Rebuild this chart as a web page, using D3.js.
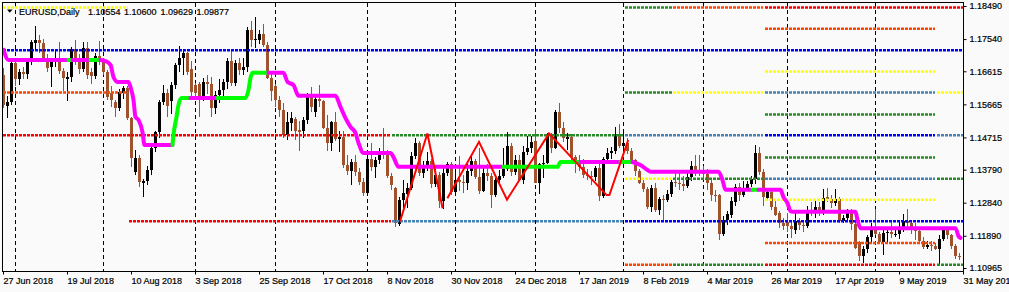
<!DOCTYPE html>
<html lang="en">
<head>
  <meta charset="UTF-8">
  <title>EURUSD,Daily</title>
  <script src="https://d3js.org/d3.v7.min.js"></script>
  <style>
    html, body { margin: 0; padding: 0; background: #fafafa; }
    svg { display: block; font-family: "Liberation Sans", Arial, sans-serif; }
    svg text { stroke: #000; stroke-width: 0.2px; }
  </style>
</head>
<body>
  <script>
    // daily bars [open, high, low, close], first bar 27 Jun 2018
    const bars = [
      [1.1651,1.1672,1.1555,1.1565],[1.1562,1.1590,1.1528,1.1573],[1.1573,1.1700,1.1565,1.1685],
      // Jul
      [1.1685,1.1690,1.1620,1.1640],[1.1640,1.1668,1.1622,1.1660],[1.1660,1.1675,1.1640,1.1654],
      [1.1654,1.1698,1.1640,1.1690],[1.1690,1.1750,1.1680,1.1745],[1.1742,1.1792,1.1720,1.1750],
      [1.1750,1.1765,1.1715,1.1742],[1.1742,1.1755,1.1690,1.1700],[1.1700,1.1710,1.1660,1.1672],
      [1.1674,1.1690,1.1616,1.1688],[1.1688,1.1722,1.1675,1.1700],[1.1700,1.1745,1.1655,1.1662],
      [1.1662,1.1672,1.1605,1.1642],[1.1640,1.1660,1.1577,1.1645],[1.1645,1.1730,1.1630,1.1726],
      [1.1726,1.1752,1.1680,1.1690],[1.1700,1.1712,1.1655,1.1668],[1.1668,1.1745,1.1660,1.1728],
      [1.1728,1.1745,1.1640,1.1650],[1.1660,1.1670,1.1625,1.1648],[1.1648,1.1715,1.1640,1.1706],
      [1.1706,1.1748,1.1680,1.1692],
      // Aug
      [1.1692,1.1700,1.1650,1.1660],[1.1660,1.1665,1.1578,1.1588],[1.1598,1.1620,1.1560,1.1578],
      [1.1573,1.1580,1.1530,1.1555],[1.1556,1.1610,1.1548,1.1602],[1.1600,1.1620,1.1582,1.1613],
      [1.1613,1.1618,1.1522,1.1527],[1.1527,1.1530,1.1388,1.1413],[1.1372,1.1435,1.1365,1.1413],
      [1.1413,1.1420,1.1330,1.1344],[1.1342,1.1352,1.1301,1.1346],[1.1345,1.1390,1.1335,1.1378],
      [1.1378,1.1445,1.1365,1.1441],[1.1441,1.1490,1.1430,1.1487],[1.1487,1.1580,1.1470,1.1573],
      [1.1573,1.1623,1.1565,1.1599],[1.1599,1.1610,1.1530,1.1562],[1.1575,1.1630,1.1540,1.1622],
      [1.1622,1.1685,1.1610,1.1680],[1.1680,1.1735,1.1660,1.1700],[1.1700,1.1720,1.1650,1.1714],
      [1.1714,1.1718,1.1650,1.1660],[1.1668,1.1690,1.1590,1.1602],
      // Sep
      [1.1622,1.1628,1.1590,1.1600],[1.1625,1.1632,1.1530,1.1580],[1.1582,1.1642,1.1575,1.1630],
      [1.1632,1.1650,1.1595,1.1626],[1.1624,1.1645,1.1530,1.1556],[1.1556,1.1605,1.1540,1.1594],
      [1.1594,1.1640,1.1570,1.1608],[1.1608,1.1640,1.1585,1.1630],[1.1630,1.1700,1.1610,1.1692],
      [1.1692,1.1722,1.1620,1.1628],[1.1628,1.1695,1.1620,1.1686],[1.1686,1.1700,1.1650,1.1666],
      [1.1666,1.1700,1.1650,1.1674],[1.1674,1.1790,1.1660,1.1780],[1.1780,1.1805,1.1730,1.1752],
      [1.1750,1.1818,1.1728,1.1754],[1.1752,1.1780,1.1740,1.1770],[1.1770,1.1798,1.1730,1.1738],
      [1.1738,1.1745,1.1640,1.1643],[1.1643,1.1655,1.1575,1.1606],
      // Oct
      [1.1620,1.1625,1.1560,1.1579],[1.1580,1.1590,1.1530,1.1550],[1.1550,1.1570,1.1470,1.1479],
      [1.1479,1.1545,1.1464,1.1515],[1.1514,1.1545,1.1490,1.1526],[1.1525,1.1530,1.1465,1.1490],
      [1.1492,1.1520,1.1432,1.1488],[1.1490,1.1530,1.1470,1.1522],[1.1522,1.1600,1.1510,1.1594],
      [1.1594,1.1615,1.1545,1.1560],[1.1545,1.1590,1.1530,1.1582],[1.1582,1.1622,1.1560,1.1576],
      [1.1576,1.1580,1.1495,1.1500],[1.1500,1.1535,1.1432,1.1455],[1.1455,1.1520,1.1432,1.1515],
      [1.1515,1.1545,1.1460,1.1466],[1.1466,1.1490,1.1430,1.1472],[1.1472,1.1490,1.1385,1.1392],
      [1.1392,1.1420,1.1365,1.1375],[1.1375,1.1410,1.1335,1.1401],[1.1401,1.1420,1.1360,1.1372],
      [1.1372,1.1385,1.1335,1.1344],[1.1344,1.1355,1.1302,1.1312],
      // Nov
      [1.1312,1.1420,1.1305,1.1410],[1.1410,1.1456,1.1375,1.1387],[1.1387,1.1415,1.1355,1.1408],
      [1.1408,1.1440,1.1395,1.1428],[1.1430,1.1500,1.1410,1.1426],[1.1426,1.1435,1.1355,1.1362],
      [1.1362,1.1370,1.1320,1.1336],[1.1326,1.1330,1.1215,1.1226],[1.1222,1.1300,1.1218,1.1292],
      [1.1292,1.1350,1.1270,1.1312],[1.1310,1.1340,1.1270,1.1326],[1.1326,1.1430,1.1320,1.1418],
      [1.1418,1.1470,1.1410,1.1456],[1.1456,1.1460,1.1360,1.1370],[1.1370,1.1405,1.1355,1.1385],
      [1.1385,1.1430,1.1375,1.1405],[1.1405,1.1410,1.1325,1.1338],[1.1338,1.1382,1.1330,1.1365],
      [1.1365,1.1372,1.1268,1.1288],[1.1288,1.1390,1.1265,1.1368],[1.1368,1.1402,1.1360,1.1395],
      [1.1395,1.1400,1.1305,1.1315],
      // Dec
      [1.1316,1.1382,1.1310,1.1350],[1.1350,1.1419,1.1318,1.1344],[1.1344,1.1365,1.1312,1.1342],
      [1.1342,1.1395,1.1321,1.1375],[1.1375,1.1424,1.1360,1.1405],[1.1405,1.1410,1.1353,1.1358],
      [1.1358,1.1440,1.1310,1.1318],[1.1318,1.1384,1.1315,1.1370],[1.1370,1.1395,1.1345,1.1362],
      [1.1362,1.1368,1.1270,1.1305],[1.1305,1.1355,1.1300,1.1348],[1.1348,1.1378,1.1333,1.1360],
      [1.1360,1.1440,1.1355,1.1380],[1.1380,1.1486,1.1375,1.1448],[1.1448,1.1455,1.1360,1.1372],
      [1.1372,1.1420,1.1365,1.1408],[1.1408,1.1420,1.1345,1.1350],[1.1350,1.1447,1.1338,1.1430],
      [1.1430,1.1475,1.1420,1.1442],[1.1442,1.1475,1.1428,1.1457],
      // Jan 2019
      [1.1460,1.1495,1.1340,1.1342],[1.1342,1.1398,1.1310,1.1396],[1.1394,1.1420,1.1355,1.1398],
      [1.1398,1.1483,1.1395,1.1478],[1.1478,1.1485,1.1426,1.1442],[1.1442,1.1550,1.1438,1.1545],
      [1.1545,1.1570,1.1485,1.1500],[1.1500,1.1517,1.1457,1.1470],[1.1466,1.1485,1.1435,1.1474],
      [1.1474,1.1480,1.1400,1.1414],[1.1414,1.1420,1.1370,1.1395],[1.1395,1.1420,1.1375,1.1388],
      [1.1388,1.1410,1.1355,1.1365],[1.1365,1.1380,1.1350,1.1362],[1.1362,1.1375,1.1335,1.1358],
      [1.1358,1.1390,1.1345,1.1383],[1.1383,1.1400,1.1290,1.1304],[1.1304,1.1415,1.1298,1.1410],
      [1.1410,1.1440,1.1400,1.1428],[1.1428,1.1445,1.1410,1.1432],[1.1432,1.1502,1.1425,1.1479],
      [1.1479,1.1510,1.1440,1.1446],
      // Feb
      [1.1446,1.1488,1.1435,1.1455],[1.1455,1.1470,1.1425,1.1432],[1.1432,1.1440,1.1398,1.1407],
      [1.1407,1.1410,1.1362,1.1375],[1.1375,1.1380,1.1338,1.1342],[1.1342,1.1350,1.1315,1.1322],
      [1.1322,1.1330,1.1265,1.1273],[1.1273,1.1335,1.1257,1.1326],[1.1326,1.1340,1.1258,1.1262],
      [1.1262,1.1300,1.1250,1.1295],[1.1295,1.1305,1.1234,1.1293],[1.1293,1.1320,1.1285,1.1310],
      [1.1310,1.1350,1.1300,1.1343],[1.1343,1.1372,1.1330,1.1341],[1.1341,1.1370,1.1320,1.1338],
      [1.1338,1.1360,1.1318,1.1333],[1.1333,1.1370,1.1325,1.1357],[1.1357,1.1405,1.1345,1.1390],
      [1.1390,1.1420,1.1360,1.1372],[1.1372,1.1420,1.1360,1.1370],
      // Mar
      [1.1370,1.1390,1.1355,1.1366],[1.1366,1.1380,1.1320,1.1340],[1.1340,1.1348,1.1290,1.1307],
      [1.1307,1.1320,1.1285,1.1305],[1.1305,1.1310,1.1177,1.1194],[1.1194,1.1245,1.1187,1.1235],
      [1.1235,1.1260,1.1220,1.1252],[1.1250,1.1300,1.1240,1.1290],[1.1285,1.1338,1.1275,1.1330],
      [1.1330,1.1340,1.1290,1.1307],[1.1307,1.1345,1.1300,1.1327],[1.1327,1.1345,1.1320,1.1337],
      [1.1337,1.1362,1.1330,1.1352],[1.1352,1.1450,1.1338,1.1427],[1.1427,1.1445,1.1365,1.1372],
      [1.1372,1.1380,1.1275,1.1301],[1.1297,1.1327,1.1290,1.1314],[1.1314,1.1325,1.1263,1.1272],
      [1.1272,1.1290,1.1245,1.1250],[1.1255,1.1260,1.1212,1.1226],[1.1226,1.1240,1.1205,1.1218],
      // Apr
      [1.1228,1.1255,1.1200,1.1216],[1.1216,1.1228,1.1184,1.1208],[1.1205,1.1255,1.1195,1.1232],
      [1.1232,1.1240,1.1207,1.1220],[1.1220,1.1235,1.1200,1.1217],[1.1217,1.1275,1.1210,1.1262],
      [1.1262,1.1285,1.1245,1.1258],[1.1260,1.1290,1.1240,1.1272],[1.1272,1.1285,1.1245,1.1254],
      [1.1254,1.1323,1.1248,1.1298],[1.1300,1.1325,1.1285,1.1296],[1.1296,1.1305,1.1270,1.1283],
      [1.1283,1.1323,1.1275,1.1296],[1.1296,1.1300,1.1225,1.1232],[1.1232,1.1250,1.1225,1.1240],
      [1.1240,1.1265,1.1232,1.1255],[1.1255,1.1265,1.1205,1.1222],[1.1222,1.1230,1.1150,1.1155],
      [1.1170,1.1175,1.1118,1.1130],[1.1130,1.1160,1.1110,1.1150],[1.1150,1.1190,1.1140,1.1185],
      [1.1185,1.1225,1.1168,1.1213],
      // May
      [1.1213,1.1265,1.1190,1.1195],[1.1195,1.1200,1.1165,1.1170],[1.1170,1.1205,1.1135,1.1198],
      [1.1196,1.1215,1.1165,1.1200],[1.1200,1.1232,1.1182,1.1194],[1.1192,1.1210,1.1185,1.1193],
      [1.1193,1.1230,1.1180,1.1215],[1.1215,1.1252,1.1200,1.1232],[1.1232,1.1265,1.1210,1.1225],
      [1.1225,1.1235,1.1195,1.1205],[1.1205,1.1225,1.1178,1.1203],[1.1203,1.1212,1.1168,1.1175],
      [1.1175,1.1185,1.1150,1.1156],[1.1156,1.1175,1.1150,1.1162],[1.1162,1.1175,1.1145,1.1160],
      [1.1160,1.1168,1.1148,1.1151],[1.1151,1.1190,1.1107,1.1180],[1.1180,1.1215,1.1175,1.1205],
      [1.1205,1.1215,1.1180,1.1190],[1.1190,1.1195,1.1150,1.1160],[1.1160,1.1165,1.1122,1.1130],
      [1.1132,1.1140,1.1120,1.1128]
    ];

    const priceTicks = [1.18490, 1.17540, 1.16615, 1.15665, 1.14715, 1.13790, 1.12840, 1.11890, 1.10965];

    const dateIdx = [0, 16, 32, 48, 64, 80, 96, 112, 128, 144, 160, 176, 192, 208, 224, 240];
    const dateText = ["27 Jun 2018", "19 Jul 2018", "10 Aug 2018", "3 Sep 2018", "25 Sep 2018",
      "17 Oct 2018", "8 Nov 2018", "30 Nov 2018", "24 Dec 2018", "17 Jan 2019", "8 Feb 2019",
      "4 Mar 2019", "26 Mar 2019", "17 Apr 2019", "9 May 2019", "31 May 2019"];

    // first bar of each month
    const monthStarts = [3, 25, 48, 68, 91, 113, 133, 155, 175, 196, 218];

    // dotted level lines: price, first bar, last bar, colour
    const levelPrice = [1.1846, 1.1723, 1.1602, 1.1479, 1.1232,
      1.1479, 1.1232,
      1.1846, 1.1602, 1.1354, 1.1107,
      1.1846, 1.1602, 1.1354, 1.1107,
      1.1479, 1.1232,
      1.1846, 1.1785, 1.1662, 1.1602, 1.1539, 1.1479, 1.1415, 1.1354, 1.1294, 1.1170, 1.1107,
      1.1602, 1.1479, 1.1354, 1.1107];
    const levelFrom = [0, 0, 0, 0, 31.5,
      97.25, 97.25,
      155.5, 155.5, 155.5, 155.5,
      167.5, 167.5, 167.5, 167.5,
      155.5, 155.5,
      190.5, 190.5, 190.5, 190.5, 190.5, 190.5, 190.5, 190.5, 190.5, 190.5, 190.5,
      233.5, 233.5, 233.5, 233.5];
    const levelTo = [31.25, 240, 31.25, 97, 97,
      155, 155,
      167.25, 167.25, 167.25, 167.25,
      190, 190, 190, 190,
      190, 240,
      240, 233, 233, 233, 233, 233, 233, 233, 233, 233, 233,
      240, 240, 240, 240];
    const levelColor = ["yellow", "blue", "orangered", "red", "red",
      "green", "steelblue",
      "green", "green", "yellow", "orangered",
      "orangered", "yellow", "green", "green",
      "steelblue", "blue",
      "red", "orangered", "yellow", "steelblue", "green", "blue", "green", "steelblue", "yellow", "orangered", "red",
      "yellow", "steelblue", "green", "green"];

    // stepped trend line: bar position, price, colour of the piece that starts there (m magenta, g green)
    const trendIdx = [0, 1.25, 16.25, 17.25, 21.75, 24.25, 25.5, 26.75, 27.5, 28.5, 31.25, 31.75, 32.5, 33, 33.75,
      34.75, 35.25, 42.25, 42.5, 43.25, 43.75, 44.5, 46.75, 53.5, 60.5, 61.25, 61.75, 62.25, 66.25, 70,
      71, 72.5, 73.75, 83, 84.25, 85.5, 86.75, 88, 88.75, 90, 96.75, 97.5, 98.75, 125, 138.5, 139.25,
      144.25, 154.25, 157.25, 159.25, 161, 161.75, 178.75, 179.75, 180.5, 187.25, 188.75, 194.25, 195,
      196, 196.75, 197.25, 213, 213.5, 214.25, 238, 238.75, 239.25];
    const trendPrice = [1.1723, 1.1694, 1.1694, 1.1694, 1.1694, 1.1694, 1.1691, 1.1680, 1.1645, 1.1631, 1.1631,
      1.1616, 1.1579, 1.1530, 1.1522, 1.1487, 1.1450, 1.1450, 1.1479, 1.1530, 1.1565, 1.1585, 1.1585,
      1.1585, 1.1585, 1.1608, 1.1642, 1.1657, 1.1657, 1.1657, 1.1631, 1.1622, 1.1591, 1.1591, 1.1559,
      1.1527, 1.1502, 1.1484, 1.1456, 1.1427, 1.1427, 1.1415, 1.1387, 1.1387, 1.1387, 1.1401, 1.1401,
      1.1401, 1.1401, 1.1392, 1.1378, 1.1373, 1.1373, 1.1349, 1.1321, 1.1321, 1.1321, 1.1321, 1.1300,
      1.1283, 1.1260, 1.1258, 1.1258, 1.1234, 1.1211, 1.1211, 1.1188, 1.1183];
    const trendColor = ["m", "m", "g", "m", "g", "m", "m", "m", "m", "m", "m", "m", "m", "m", "m",
      "m", "m", "g", "g", "g", "g", "g", "m", "g", "g", "g", "g", "g", "m", "m",
      "m", "m", "m", "m", "m", "m", "m", "m", "m", "m", "m", "m", "m", "g", "g", "g",
      "m", "g", "m", "m", "m", "m", "m", "m", "m", "g", "m", "m", "m",
      "m", "m", "m", "m", "m", "m", "m", "m", "m"];

    // zigzag legs: [bar position, price]
    const zigzagA = [[99.25, 1.1230], [106.1, 1.1483], [109.9, 1.1268]];
    const zigzagB = [[111.1, 1.1297], [119, 1.1459], [126, 1.1293], [136.5, 1.1483],
      [150.9, 1.1306], [151.6, 1.1306], [156.3, 1.1464]];

    const headerText = ["EURUSD,Daily", "1.10554", "1.10600", "1.09629", "1.09877"];
    const headerX = [19, 88, 124, 160.5, 196.5];

    const width = 1009, height = 292;
    const plotL = 3, plotR = 963, plotT = 3, plotB = 271;

    const svg = d3.select("body").append("svg")
      .attr("width", width)
      .attr("height", height);

    svg.append("rect").attr("width", width).attr("height", height).attr("fill", "#fafafa");

    const x = d3.scaleLinear().domain([0, 240]).range([3, 963]);
    const y = d3.scaleLinear().domain([1.10965, 1.18490]).range([268, 6]);

    svg.append("clipPath").attr("id", "plot")
      .append("rect").attr("x", plotL).attr("y", plotT).attr("width", plotR - plotL).attr("height", plotB - plotT);

    const plot = svg.append("g").attr("clip-path", "url(#plot)");

    // month grid
    plot.selectAll("line.grid")
      .data(monthStarts)
      .join("line")
      .attr("x1", d => x(d) + 0.5).attr("x2", d => x(d) + 0.5)
      .attr("y1", plotT).attr("y2", plotB)
      .attr("stroke", "#000")
      .attr("stroke-width", 1)
      .attr("stroke-dasharray", "4,3");

    // candles
    const bull = "#000000", bear = "#a0522d";
    const candles = plot.append("g").attr("shape-rendering", "crispEdges");
    candles.selectAll("line")
      .data(bars)
      .join("line")
      .attr("x1", (d, i) => x(i) + 0.5).attr("x2", (d, i) => x(i) + 0.5)
      .attr("y1", d => y(d[1])).attr("y2", d => y(d[2]))
      .attr("stroke", d => d[3] >= d[0] ? bull : bear);
    candles.selectAll("rect")
      .data(bars)
      .join("rect")
      .attr("x", (d, i) => x(i) - 1)
      .attr("width", 3)
      .attr("y", d => y(Math.max(d[0], d[3])))
      .attr("height", d => Math.max(1, Math.abs(y(d[0]) - y(d[3]))))
      .attr("fill", d => d[3] >= d[0] ? bull : bear);

    // dotted levels
    const levelColors = { yellow: "#ffff00", blue: "#0000ff", orangered: "#ff4500", red: "#ff0000",
      green: "#2a8a2a", steelblue: "#4682b4" };
    plot.selectAll("line.level")
      .data(levelPrice)
      .join("line")
      .attr("x1", (d, k) => x(levelFrom[k]))
      .attr("x2", (d, k) => x(levelTo[k]))
      .attr("y1", d => y(d) + 0.5).attr("y2", d => y(d) + 0.5)
      .attr("stroke", (d, k) => levelColors[levelColor[k]])
      .attr("stroke-width", 2.5)
      .attr("stroke-dasharray", "3,1");

    // trend line, split into runs of one colour
    const knots = trendIdx.map((d, k) => ({ i: d, p: trendPrice[k], c: trendColor[k] }));
    const runs = [];
    let cur = null;
    for (let k = 0; k < knots.length - 1; k++) {
      if (!cur || cur.c !== knots[k].c) {
        cur = { c: knots[k].c, pts: [knots[k]] };
        runs.push(cur);
      }
      cur.pts.push(knots[k + 1]);
    }
    const trendLine = d3.line().x(d => x(d.i) + 0.5).y(d => y(d.p)).curve(d3.curveMonotoneX);
    plot.selectAll("path.trend")
      .data(runs)
      .join("path")
      .attr("d", r => trendLine(r.pts))
      .attr("fill", "none")
      .attr("stroke", r => r.c === "g" ? "#00ff00" : "#ff00ff")
      .attr("stroke-width", 4)
      .attr("stroke-linecap", "round")
      .attr("stroke-linejoin", "round");

    // zigzag
    const zz = d3.line().x(d => x(d[0])).y(d => y(d[1]));
    plot.selectAll("path.zz")
      .data([zigzagA, zigzagB])
      .join("path")
      .attr("d", zz)
      .attr("fill", "none")
      .attr("stroke", "#ff0000")
      .attr("stroke-width", 2);

    // frame
    svg.append("rect")
      .attr("x", 2.5).attr("y", 2.5)
      .attr("width", plotR - 2).attr("height", plotB - 2)
      .attr("fill", "none").attr("stroke", "#000");

    // price axis
    svg.append("g")
      .attr("transform", `translate(${plotR + 0.5},0)`)
      .call(d3.axisRight(y).tickValues(priceTicks).tickFormat(d3.format(".5f")).tickSize(3).tickPadding(3))
      .call(g => g.select(".domain").remove())
      .attr("font-size", 9)
      .attr("font-family", "Liberation Sans, Arial, sans-serif")
      .call(g => g.selectAll("text").attr("fill", "#000"));

    // date axis
    svg.append("g")
      .attr("transform", `translate(0,${plotB + 0.5})`)
      .call(d3.axisBottom(x).tickValues(dateIdx).tickFormat((d, k) => dateText[k]).tickSize(3).tickPadding(3))
      .call(g => g.select(".domain").remove())
      .attr("font-size", 9)
      .attr("font-family", "Liberation Sans, Arial, sans-serif")
      .attr("text-anchor", "start")
      .call(g => g.selectAll("text").attr("fill", "#000"));

    // header
    svg.append("path")
      .attr("d", "M7,9.5 L12.5,9.5 L9.75,12.8 Z")
      .attr("fill", "#000");
    svg.selectAll("text.head")
      .data(headerText)
      .join("text")
      .attr("x", (d, k) => headerX[k])
      .attr("y", 14.5)
      .attr("font-size", 9)
      .attr("fill", "#000")
      .text(d => d);
  </script>
</body>
</html>
